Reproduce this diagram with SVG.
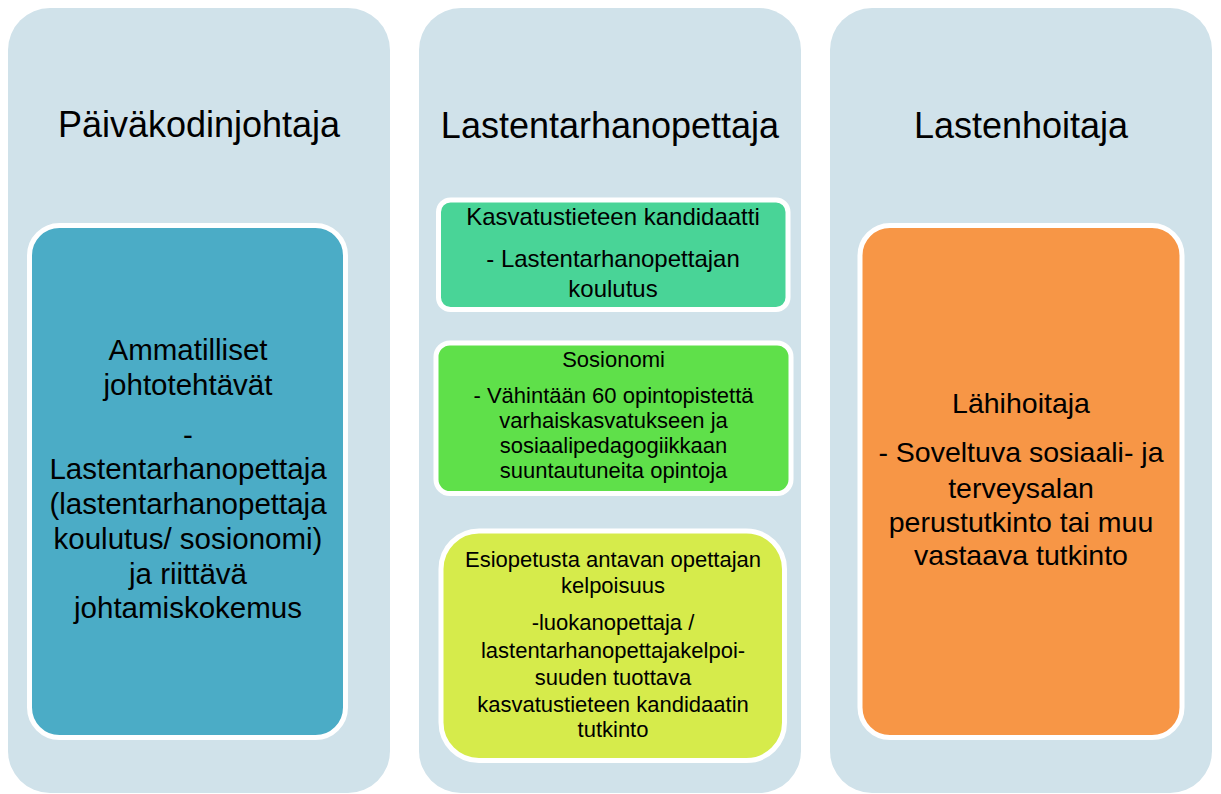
<svg xmlns="http://www.w3.org/2000/svg" width="1221" height="794" viewBox="0 0 1221 794">
<style>
.col{fill:#D0E2EA}
.box{stroke:#FFFFFF;stroke-width:5}
text{font-family:"Liberation Sans",Arial,sans-serif;fill:#000000;text-anchor:middle}
.h{font-size:36px}
.t1{font-size:29.5px}
.t1b{font-size:28.5px}
.t2{font-size:24px}
.t3{font-size:22px}
</style>
<rect width="1221" height="794" fill="#FFFFFF"/>
<g id="col-paivakodinjohtaja">
<rect class="col" x="8" y="8" width="382" height="785" rx="42"/>
<text class="h" x="199" y="137">Päiväkodinjohtaja</text>
</g>
<g id="col-lastentarhanopettaja">
<rect class="col" x="419" y="8" width="382" height="785" rx="42"/>
<text class="h" x="610" y="138">Lastentarhanopettaja</text>
</g>
<g id="col-lastenhoitaja">
<rect class="col" x="830" y="8" width="382" height="785" rx="42"/>
<text class="h" x="1021" y="138">Lastenhoitaja</text>
</g>
<g id="box-johtaja">
<rect class="box" x="29.5" y="225.5" width="316" height="512" rx="30" fill="#4BACC6"/>
<text class="t1"><tspan x="188" y="360">Ammatilliset</tspan><tspan x="188" y="394.5">johtotehtävät</tspan><tspan x="188" y="445">-</tspan><tspan x="188" y="479">Lastentarhanopettaja</tspan><tspan x="188" y="514">(lastentarhanopettaja</tspan><tspan x="188" y="549">koulutus/ sosionomi)</tspan><tspan x="188" y="584">ja riittävä</tspan><tspan x="188" y="618">johtamiskokemus</tspan></text>
</g>
<g id="box-kasvatustiede">
<rect class="box" x="438.5" y="200" width="349.5" height="109.5" rx="12" fill="#49D497"/>
<text class="t2"><tspan x="613" y="225">Kasvatustieteen kandidaatti</tspan><tspan x="613" y="267">- Lastentarhanopettajan</tspan><tspan x="613" y="297">koulutus</tspan></text>
</g>
<g id="box-sosionomi">
<rect class="box" x="436" y="343" width="355" height="150.5" rx="14" fill="#5FE04A"/>
<text class="t3"><tspan x="613.5" y="367">Sosionomi</tspan><tspan x="613.5" y="403">- Vähintään 60 opintopistettä</tspan><tspan x="613.5" y="428">varhaiskasvatukseen ja</tspan><tspan x="613.5" y="453">sosiaalipedagogiikkaan</tspan><tspan x="613.5" y="478">suuntautuneita opintoja</tspan></text>
</g>
<g id="box-esiopetus">
<rect class="box" x="441" y="531" width="343.5" height="229.5" rx="38" fill="#D6EB4B"/>
<text class="t3"><tspan x="613" y="567">Esiopetusta antavan opettajan</tspan><tspan x="613" y="593">kelpoisuus</tspan><tspan x="613" y="630">-luokanopettaja /</tspan><tspan x="613" y="657.5">lastentarhanopettajakelpoi-</tspan><tspan x="613" y="685">suuden tuottava</tspan><tspan x="613" y="712">kasvatustieteen kandidaatin</tspan><tspan x="613" y="737">tutkinto</tspan></text>
</g>
<g id="box-lahihoitaja">
<rect class="box" x="860" y="225.5" width="322" height="512" rx="30" fill="#F79646"/>
<text class="t1b"><tspan x="1021" y="413">Lähihoitaja</tspan><tspan x="1021" y="462">- Soveltuva sosiaali- ja</tspan><tspan x="1021" y="498">terveysalan</tspan><tspan x="1021" y="532">perustutkinto tai muu</tspan><tspan x="1021" y="565">vastaava tutkinto</tspan></text>
</g>
<g id="connectors"></g>
</svg>
